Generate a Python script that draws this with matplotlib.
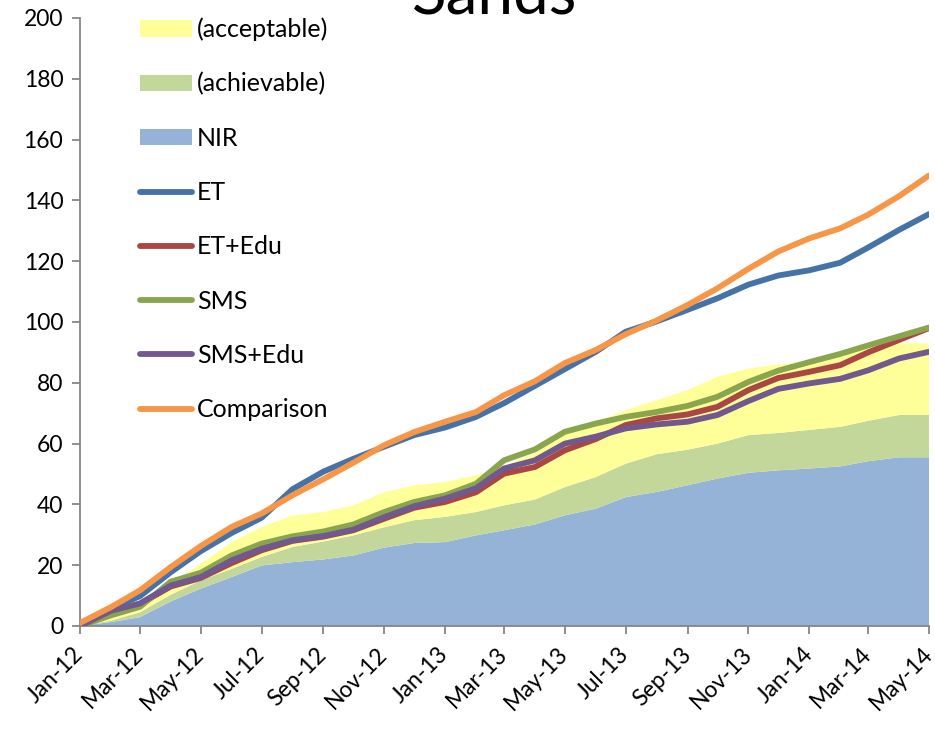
import matplotlib
matplotlib.use("Agg")
import matplotlib.pyplot as plt
import matplotlib.dates as mdates
from matplotlib.patches import Patch
from matplotlib.lines import Line2D
import pandas as pd

plt.rcParams['font.family'] = ['Lato', 'DejaVu Sans']

# Monthly cumulative values, Jan-2012 .. May-2014
months = pd.date_range('2012-01-01', '2014-05-01', freq='MS')

et = [0.5, 5.8, 9.8, 17.7, 24.6, 30.6, 35.6, 45.0, 50.8, 55.0, 59.0, 62.8, 65.3,
      68.8, 73.3, 79.0, 84.5, 90.2, 96.8, 100.2, 104.0, 107.8, 112.3, 115.3,
      117.0, 119.5, 124.5, 130.3, 135.5]
et_edu = [0.0, 4.8, 7.2, 13.0, 15.8, 20.7, 24.9, 28.0, 29.4, 31.5, 35.3, 38.9, 40.8,
          44.0, 50.1, 52.3, 57.8, 61.5, 66.1, 68.3, 69.6, 72.1, 77.6, 81.6,
          83.6, 85.8, 90.0, 94.1, 98.0]
sms = [0.0, 3.5, 6.3, 14.6, 17.5, 23.2, 27.1, 29.5, 31.1, 33.4, 37.5, 40.8, 43.0,
       46.8, 54.5, 58.1, 63.9, 66.6, 68.8, 70.4, 72.4, 75.4, 80.3, 84.0,
       86.8, 89.5, 92.3, 95.3, 98.2]
sms_edu = [0.0, 5.0, 7.4, 13.3, 16.1, 21.6, 25.4, 28.2, 29.6, 31.7, 35.8, 39.4, 41.9,
           45.3, 51.8, 54.5, 60.0, 62.3, 65.0, 66.3, 67.2, 69.4, 74.0, 78.0,
           79.8, 81.3, 84.1, 88.0, 90.2]
comparison = [1.0, 6.2, 11.7, 19.4, 26.3, 32.6, 37.0, 43.0, 48.3, 53.7, 59.5, 63.8, 67.2,
              70.4, 75.9, 80.5, 86.5, 90.8, 96.0, 100.5, 105.6, 111.1, 117.5, 123.2,
              127.5, 130.8, 135.3, 141.4, 148.2]

# Stacked bands: NIR at the bottom, then the achievable and acceptable increments
nir = [0.0, 1.3, 2.9, 8.1, 12.3, 16.1, 19.9, 21.0, 21.9, 23.2, 25.8, 27.3, 27.6,
       29.8, 31.5, 33.4, 36.4, 38.6, 42.4, 44.1, 46.3, 48.5, 50.4, 51.2,
       51.8, 52.5, 54.2, 55.5, 55.5]
achievable = [0.0, 0.5, 1.6, 2.2, 2.7, 2.7, 2.8, 5.0, 5.9, 6.6, 6.7, 7.5, 8.3,
              7.7, 8.2, 8.2, 9.3, 10.4, 11.0, 12.4, 11.7, 11.5, 12.4, 12.3,
              12.7, 13.0, 13.3, 13.9, 13.9]
acceptable = [0.0, 1.1, 1.2, 3.7, 5.5, 8.8, 9.9, 10.4, 9.7, 9.9, 11.5, 11.5, 11.5,
              12.1, 12.8, 15.4, 17.8, 18.0, 17.6, 17.8, 19.6, 22.0, 21.9, 22.5,
              22.7, 24.0, 24.5, 23.6, 23.6]

area_colors = ['#95B3D7', '#C4D79B', '#FFFF99']
line_styles = [
    ('ET', et, '#4572A7'),
    ('ET+Edu', et_edu, '#AA4643'),
    ('SMS', sms, '#89A54E'),
    ('SMS+Edu', sms_edu, '#71588F'),
    ('Comparison', comparison, '#F79646'),
]
LW = 4.2

fig = plt.figure(figsize=(9.35, 7.3), dpi=100)
ax = fig.add_axes([80 / 935, 104 / 730, 849 / 935, 608 / 730])

ax.stackplot(months, nir, achievable, acceptable, colors=area_colors,
             linewidth=0, zorder=1)
for name, vals, col in line_styles:
    ax.plot(months, vals, color=col, lw=LW, solid_capstyle='round',
            solid_joinstyle='round', zorder=3)

ax.set_xlim(months[0], months[-1])
ax.set_ylim(0, 200)
ax.set_yticks(range(0, 201, 20))
ax.xaxis.set_major_locator(mdates.MonthLocator(bymonth=[1, 3, 5, 7, 9, 11]))
ax.xaxis.set_major_formatter(mdates.DateFormatter('%b-%y'))

for s in ('top', 'right'):
    ax.spines[s].set_visible(False)
for s in ('left', 'bottom'):
    ax.spines[s].set_color('#868686')
    ax.spines[s].set_linewidth(1.3)
ax.tick_params(axis='both', colors='#868686', length=6, width=1.3,
               labelcolor='black', labelsize=16.5)
ax.tick_params(axis='y', pad=6)
ax.tick_params(axis='x', pad=12)
for lbl in ax.get_xticklabels():
    lbl.set_rotation(45)
    lbl.set_ha('right')
    lbl.set_va('center')
    lbl.set_rotation_mode('anchor')

handles = [
    Patch(facecolor=area_colors[2], edgecolor='none', label='(acceptable)'),
    Patch(facecolor=area_colors[1], edgecolor='none', label='(achievable)'),
    Patch(facecolor=area_colors[0], edgecolor='none', label='NIR'),
]
for name, vals, col in line_styles:
    handles.append(Line2D([], [], color=col, lw=LW, solid_capstyle='round',
                          label=name))

leg = fig.legend(handles=handles, loc='upper left',
                 bbox_to_anchor=(140 / 935, 1 - 17.5 / 730),
                 frameon=False, fontsize=18, handlelength=2.08,
                 handleheight=0.64, handletextpad=0.2, labelspacing=1.25,
                 borderpad=0, borderaxespad=0)

fig.text(495 / 935, 1 - 14 / 730, 'Sands', fontsize=46, ha='center',
         va='baseline')

fig.savefig('out.png', dpi=100)
